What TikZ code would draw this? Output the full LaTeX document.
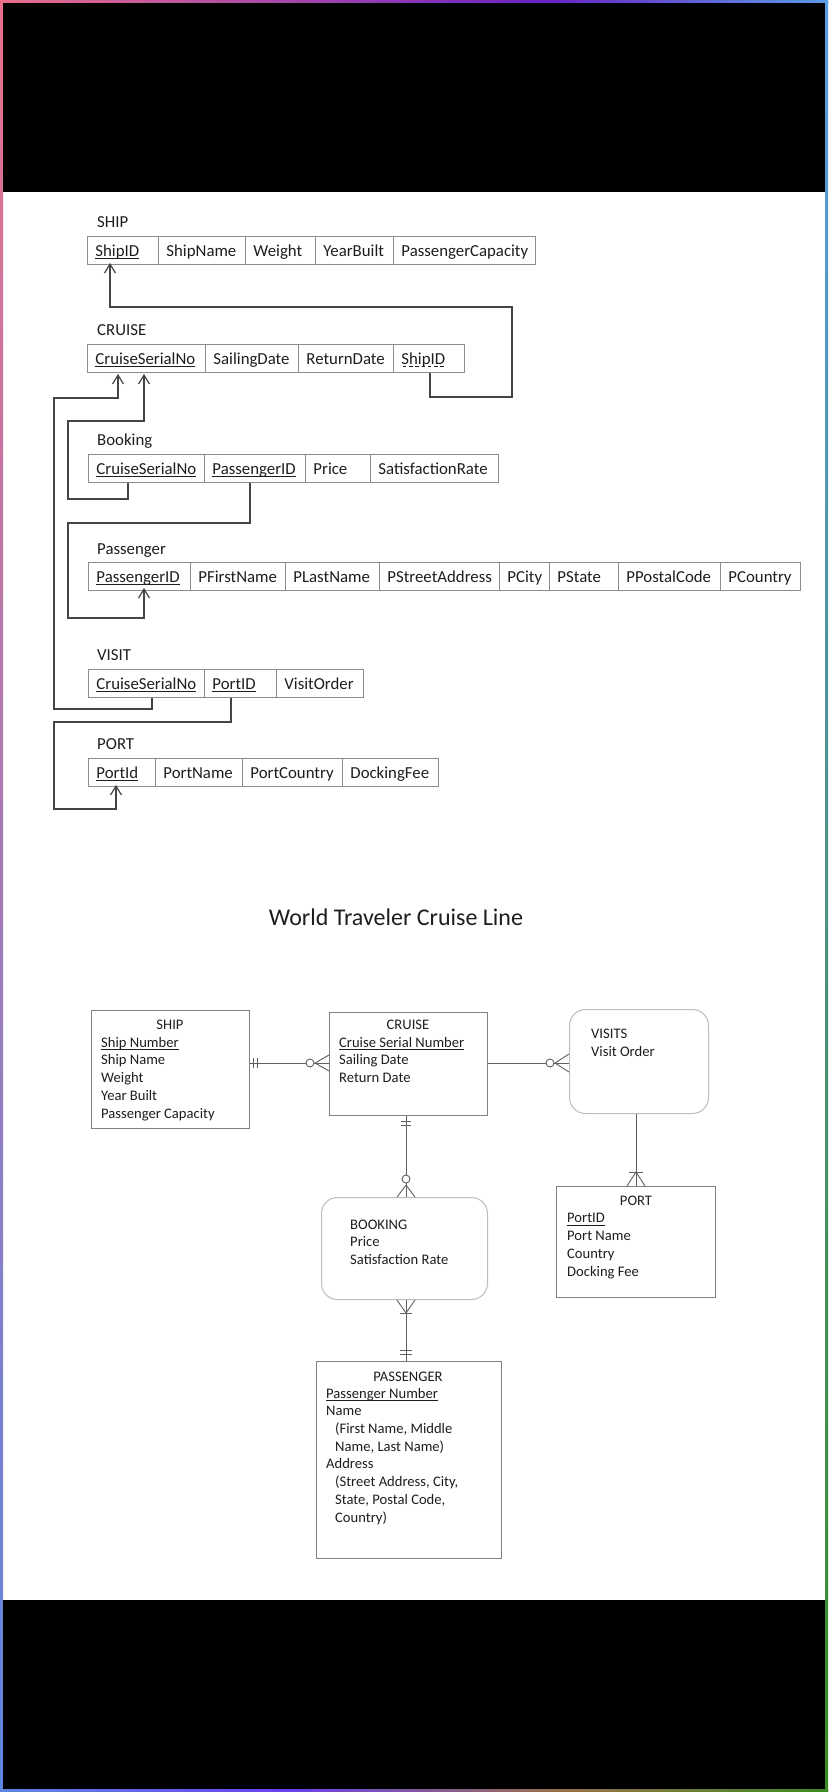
\documentclass[tikz,border=0pt]{standalone}
\usepackage{fontspec}
\setmainfont{Carlito}
\usetikzlibrary{arrows.meta,calc}

\definecolor{bpink}{HTML}{E8708C}
\definecolor{bpurple}{HTML}{6A22C4}
\definecolor{bblue}{HTML}{5A9BE6}
\definecolor{bblue2}{HTML}{5C86E0}
\definecolor{bpurple2}{HTML}{6A40F0}
\definecolor{bbrown}{HTML}{9A7048}
\definecolor{bgreen}{HTML}{3C8A22}
\definecolor{txt}{HTML}{1E1E1E}
\definecolor{cellgray}{HTML}{8C8C8C}
\definecolor{fkline}{HTML}{454545}
\definecolor{ergray}{HTML}{808080}
\definecolor{erlight}{HTML}{BDBDBD}
\definecolor{erline}{HTML}{606060}

\newcommand\mytabfont{\fontsize{16.8}{20}\selectfont}
\newcommand\myerfont{\fontsize{14.6}{17.7}\selectfont}
\newcommand\myul[1]{\setbox0\hbox{#1}\rlap{\rule[-2.4pt]{\wd0}{0.8pt}}\box0}
\newcommand\mydul[1]{\setbox0\hbox{#1}\rlap{\hbox to \wd0{\xleaders\hbox to 6pt{\hss\rule[-2.4pt]{3.5pt}{0.8pt}\hss}\hfill}}\box0}
\newcommand\tcell[5]{\node[tcellsty, minimum width={(#3-#2)*1pt}] (#1) at (#2,#4) {\makebox[\dimexpr #3pt-#2pt-16pt\relax][l]{#5}};}

\begin{document}
\begin{tikzpicture}[x=1pt,y=-1pt,
  tcellsty/.style={draw=cellgray, line width=0.9pt, anchor=north west, inner xsep=8pt, inner ysep=0pt,
    minimum height=28pt, text height=12.5pt, text depth=0.5pt, font=\mytabfont, text=txt},
  tlabel/.style={anchor=base west, inner sep=0pt, font=\mytabfont, text=txt},
  fk/.style={draw=fkline, line width=1.2pt, -{Straight Barb[length=9pt,width=11pt]}},
  erbox/.style={draw=ergray, line width=0.9pt, anchor=north west, inner sep=0pt},
  errbox/.style={draw=erlight, line width=1pt, rounded corners=16pt, anchor=north west, inner sep=0pt},
  ertxt/.style={inner sep=0pt, font=\myerfont, text=txt},
  erl/.style={draw=erline, line width=0.9pt}
]
\useasboundingbox (0,0) rectangle (828,1792);
\fill[white] (0,0) rectangle (828,1792);
% gradient frame
\shade[left color=bpink, right color=bpurple] (0,0) rectangle (544,3);
\shade[left color=bpurple, right color=bblue] (544,0) rectangle (828,3);
\shade[top color=bpink, bottom color=bblue2] (0,0) rectangle (3,1792);
\shade[top color=bblue, bottom color=bgreen] (825,0) rectangle (828,1792);
\shade[left color=bblue2, right color=bpurple2] (0,1789) rectangle (285,1792);
\shade[left color=bpurple2, right color=bbrown] (285,1789) rectangle (560,1792);
\shade[left color=bbrown, right color=bgreen] (560,1789) rectangle (828,1792);
% black bands
\fill[black] (3,3) rectangle (825,192);
\fill[black] (3,1600) rectangle (825,1789);

% ---------- relational schema ----------
\node[tlabel] (lship) at (97,227) {SHIP};
\tcell{s1}{87}{158}{236}{\myul{ShipID}}
\tcell{s2}{158}{245}{236}{ShipName}
\tcell{s3}{245}{315}{236}{Weight}
\tcell{s4}{315}{393}{236}{YearBuilt}
\tcell{s5}{393}{535}{236}{PassengerCapacity}

\node[tlabel] (lcruise) at (97,335) {CRUISE};
\tcell{c1}{87}{205}{344}{\myul{CruiseSerialNo}}
\tcell{c2}{205}{298}{344}{SailingDate}
\tcell{c3}{298}{393}{344}{ReturnDate}
\tcell{c4}{393}{464}{344}{\mydul{ShipID}}

\node[tlabel] (lbooking) at (97,445) {Booking};
\tcell{b1}{88}{204}{454}{\myul{CruiseSerialNo}}
\tcell{b2}{204}{305}{454}{\myul{PassengerID}}
\tcell{b3}{305}{370}{454}{Price}
\tcell{b4}{370}{498}{454}{SatisfactionRate}

\node[tlabel] (lpass) at (97,554) {Passenger};
\tcell{p1}{88}{190}{562}{\myul{PassengerID}}
\tcell{p2}{190}{285}{562}{PFirstName}
\tcell{p3}{285}{379}{562}{PLastName}
\tcell{p4}{379}{499}{562}{PStreetAddress}
\tcell{p5}{499}{549}{562}{PCity}
\tcell{p6}{549}{618}{562}{PState}
\tcell{p7}{618}{720}{562}{PPostalCode}
\tcell{p8}{720}{800}{562}{PCountry}

\node[tlabel] (lvisit) at (97,660) {VISIT};
\tcell{v1}{88}{204}{669}{\myul{CruiseSerialNo}}
\tcell{v2}{204}{276}{669}{\myul{PortID}}
\tcell{v3}{276}{363}{669}{VisitOrder}

\node[tlabel] (lport) at (97,749) {PORT};
\tcell{o1}{88}{155}{758}{\myul{PortId}}
\tcell{o2}{155}{242}{758}{PortName}
\tcell{o3}{242}{342}{758}{PortCountry}
\tcell{o4}{342}{438}{758}{DockingFee}

% foreign key connectors
\draw[fk] ($(c4.south west)+(37,0)$) |- (512,397) |- (110,307) -- ($(s1.south west)+(23,-2)$);
\draw[fk] ($(b1.south west)+(40,0)$) |- (68,499) |- (144,421) -- ($(c1.south west)+(57,1)$);
\draw[fk] ($(b2.south west)+(46,0)$) |- (68,523) |- (144,618) -- ($(p1.south west)+(56,-3)$);
\draw[fk] ($(v1.south west)+(64,0)$) |- (54,709) |- (118,398) -- ($(c1.south west)+(31,1)$);
\draw[fk] ($(v2.south west)+(27,0)$) |- (54,722) |- (116,809) -- ($(o1.south west)+(28,-2)$);

% ---------- ER diagram ----------
\node[inner sep=0pt, font=\fontsize{24}{28}\selectfont, text=txt] (title) at (396,917) {World Traveler Cruise Line};

\node[erbox, minimum width=158pt, minimum height=118pt] (eship) at (91,1010) {};
\node[erbox, minimum width=158pt, minimum height=103pt] (ecruise) at (329,1012) {};
\node[errbox, minimum width=139pt, minimum height=104pt] (evisits) at (569,1009) {};
\node[erbox, minimum width=159pt, minimum height=111pt] (eport) at (556,1186) {};
\node[errbox, minimum width=166pt, minimum height=102pt] (ebooking) at (321,1197) {};
\node[erbox, minimum width=185pt, minimum height=197pt] (epass) at (316,1361) {};

% multi-line nodes: base anchor is the baseline of the last line
\node[ertxt, anchor=base] (tship) at (170,1029) {SHIP};
\node[ertxt, anchor=base west, align=left] (aship) at (101,1118) {\myul{Ship Number}\\Ship Name\\Weight\\Year Built\\Passenger Capacity};
\node[ertxt, anchor=base] (tcruise) at (408,1029) {CRUISE};
\node[ertxt, anchor=base west, align=left] (acruise) at (339,1082.5) {\myul{Cruise Serial Number}\\Sailing Date\\Return Date};
\node[ertxt, anchor=base west, align=left] (avisits) at (591,1056) {VISITS\\Visit Order};
\node[ertxt, anchor=base west, align=left] (abooking) at (350,1264.5) {BOOKING\\Price\\Satisfaction Rate};
\node[ertxt, anchor=base] (tport) at (636,1205) {PORT};
\node[ertxt, anchor=base west, align=left] (aport) at (567,1276) {\myul{PortID}\\Port Name\\Country\\Docking Fee};
\node[ertxt, anchor=base] (tpass) at (408,1381) {PASSENGER};
\node[ertxt, anchor=base west, align=left] (apass) at (326,1522) {\myul{Passenger Number}\\Name\\\hspace*{9pt}(First Name, Middle\\\hspace*{9pt}Name, Last Name)\\Address\\\hspace*{9pt}(Street Address, City,\\\hspace*{9pt}State, Postal Code,\\\hspace*{9pt}Country)};

% SHIP -- CRUISE
\coordinate (a1) at ($(eship.north east)+(0,53)$);
\coordinate (a2) at ($(ecruise.north west)+(0,51)$);
\draw[erl] (a1) -- (a2);
\draw[erl] ($(a1)+(4,-5)$) -- ($(a1)+(4,5)$) ($(a1)+(8,-5)$) -- ($(a1)+(8,5)$);
\draw[erl] ($(a2)+(-14,0)$) -- ($(a2)+(0,-8)$) ($(a2)+(-14,0)$) -- ($(a2)+(0,8)$);
\draw[erl, fill=white] ($(a2)+(-19,0)$) circle (4pt);

% CRUISE -- VISITS
\coordinate (a3) at ($(ecruise.north east)+(0,51)$);
\coordinate (a4) at ($(evisits.north west)+(0,54)$);
\draw[erl] (a3) -- (a4);
\draw[erl] ($(a4)+(-14,0)$) -- ($(a4)+(0,-9)$) ($(a4)+(-14,0)$) -- ($(a4)+(0,9)$);
\draw[erl, fill=white] ($(a4)+(-19,0)$) circle (4pt);

% CRUISE -- BOOKING
\coordinate (a5) at ($(ecruise.south west)+(77,0)$);
\coordinate (a6) at ($(ebooking.north west)+(85,0)$);
\draw[erl] (a5) -- (a6);
\draw[erl] ($(a5)+(-5,6)$) -- ($(a5)+(5,6)$) ($(a5)+(-5,10)$) -- ($(a5)+(5,10)$);
\draw[erl] ($(a6)+(0,-12)$) -- ($(a6)+(-9,0)$) ($(a6)+(0,-12)$) -- ($(a6)+(9,0)$);
\draw[erl, fill=white] ($(a6)+(0,-18)$) circle (4pt);

% BOOKING -- PASSENGER
\coordinate (a7) at ($(ebooking.south west)+(85,0)$);
\coordinate (a8) at ($(epass.north west)+(90,0)$);
\draw[erl] (a7) -- (a8);
\draw[erl] ($(a7)+(-9,0)$) -- ($(a7)+(0,13)$) -- ($(a7)+(9,0)$);
\draw[erl] ($(a7)+(-6,13)$) -- ($(a7)+(6,13)$);
\draw[erl] ($(a8)+(-6,-11)$) -- ($(a8)+(6,-11)$) ($(a8)+(-6,-7)$) -- ($(a8)+(6,-7)$);

% VISITS -- PORT
\coordinate (a9) at ($(evisits.south west)+(67,0)$);
\coordinate (a10) at ($(eport.north west)+(80,0)$);
\draw[erl] (a9) -- (a10);
\draw[erl] ($(a10)+(-7,-14)$) -- ($(a10)+(7,-14)$);
\draw[erl] ($(a10)+(-9,0)$) -- ($(a10)+(0,-14)$) -- ($(a10)+(9,0)$);
\end{tikzpicture}
\end{document}
